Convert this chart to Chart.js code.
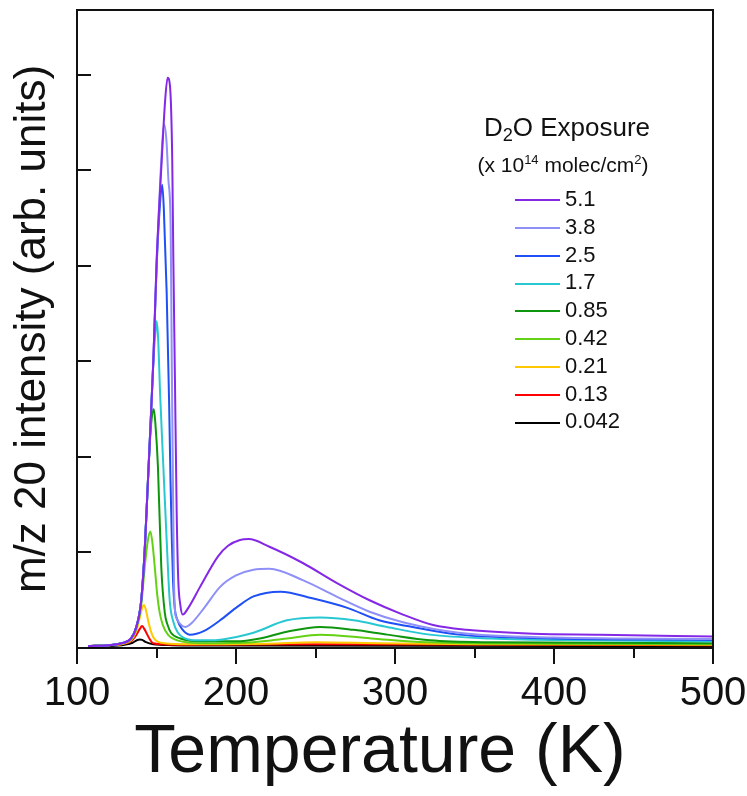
<!DOCTYPE html>
<html>
<head>
<meta charset="utf-8">
<script src="https://cdn.jsdelivr.net/npm/chart.js@4.4.1/dist/chart.umd.min.js"></script>
<style>
  html, body { margin: 0; padding: 0; background: #fff; }
  #wrap { position: relative; width: 747px; height: 796px; font-family: "Liberation Sans", Arial, sans-serif; color: #111; }
  #legend { position: absolute; left: 0; top: 0; width: 747px; height: 796px; pointer-events: none; }
  .lg-title { position: absolute; left: 447px; width: 240px; top: 112px; text-align: center; font-size: 26px; line-height: 30px; }
  .lg-sub { position: absolute; left: 443px; width: 240px; top: 153px; text-align: center; font-size: 21px; line-height: 24px; }
  .lg-title sub { font-size: 0.7em; vertical-align: -0.25em; line-height: 0; }
  .lg-sub sup { font-size: 0.62em; vertical-align: 0.65em; line-height: 0; }
  .row { position: absolute; left: 515px; height: 28px; line-height: 28px; font-size: 22px; white-space: nowrap; }
  .swatch { display: inline-block; width: 45px; height: 2px; vertical-align: middle; margin-right: 5px; }
</style>
</head>
<body>
<div id="wrap">
  <canvas id="tpdChart" width="747" height="796"></canvas>
  <div id="legend">
    <div class="lg-title">D<sub>2</sub>O Exposure</div>
    <div class="lg-sub">(x 10<sup>14</sup> molec/cm<sup>2</sup>)</div>
  </div>
</div>
<script>
// D2O exposures (x 10^14 molec/cm^2) and the colour used for each trace
const labels = ['5.1', '3.8', '2.5', '1.7', '0.85', '0.42', '0.21', '0.13', '0.042'];
const colors = ['#8428e6', '#8f8ff8', '#1e50f5', '#28c8d2', '#0f960f', '#64d214', '#ffc800', '#ff0000', '#000000'];
const xTitle = 'Temperature (K)';
const yTitle = 'm/z 20 intensity (arb. units)';

// TPD traces: [temperature (K), m/z 20 signal (arb. units)]
const exp51 = [[107,0.02],[120,0.03],[128,0.05],[134,0.10],[137.3,0.22],[140.4,0.5],[142.6,1.03],[144.2,1.6],[146,2.25],[148,3.0],[150.1,4.06],[153.3,5.11],[155.5,5.75],[157,5.97],[158.5,5.88],[159.9,5.11],[160.6,4.06],[161.6,2.81],[162.7,1.41],[163.7,0.71],[165,0.45],[166.5,0.35],[170,0.42],[177.4,0.64],[188.7,0.96],[195,1.07],[202.5,1.13],[208,1.14],[221,1.06],[242,0.89],[263.5,0.68],[284,0.5],[305,0.35],[324,0.24],[345,0.19],[387,0.15],[429,0.14],[500,0.12]];
const exp38 = [[107,0.02],[120,0.03],[128,0.05],[134,0.10],[137.3,0.22],[140.4,0.5],[142.6,1.03],[144.2,1.6],[146,2.25],[148,3.0],[150.1,4.06],[152.5,4.95],[154.9,5.48],[156.3,5.3],[157.5,4.9],[158.9,4.41],[159.6,3.02],[160.3,1.8],[161,0.71],[161.6,0.4],[163,0.3],[165,0.25],[168,0.22],[172,0.26],[180,0.42],[190,0.64],[200,0.76],[211,0.82],[221,0.83],[242,0.71],[263,0.54],[284,0.38],[305,0.27],[340,0.16],[400,0.11],[500,0.095]];
const exp25 = [[107,0.02],[120,0.03],[128,0.05],[134,0.10],[137.3,0.22],[140.4,0.5],[142.6,1.03],[144.2,1.6],[146,2.25],[148,3.0],[150.1,4.0],[152,4.6],[153.6,4.85],[154.6,4.6],[156.4,3.72],[157.9,2.6],[158.8,1.76],[159.7,1.1],[160.4,0.7],[161.6,0.4],[163,0.3],[166,0.2],[171,0.14],[180,0.18],[190,0.29],[200,0.42],[211,0.54],[228,0.59],[248,0.52],[270,0.42],[290,0.29],[311,0.22],[340,0.14],[400,0.10],[500,0.085]];
const exp17 = [[107,0.02],[120,0.03],[128,0.05],[134,0.10],[137.3,0.22],[140.4,0.5],[142.6,1.03],[144.2,1.6],[146,2.25],[148,3.0],[149.3,3.3],[150.1,3.42],[151,3.25],[152.3,2.65],[154.3,1.9],[156.2,1.2],[158.3,0.5],[160.5,0.28],[163.5,0.16],[168,0.10],[175,0.08],[185,0.08],[195,0.10],[211,0.16],[232,0.29],[253,0.32],[274,0.29],[295,0.22],[322,0.14],[360,0.10],[420,0.08],[500,0.07]];
const exp085 = [[107,0.02],[120,0.03],[128,0.05],[134,0.10],[137.3,0.22],[140.4,0.5],[142.6,1.03],[144.2,1.6],[146,2.2],[147.3,2.45],[148.3,2.5],[149.3,2.35],[150.9,1.9],[153,0.85],[155.2,0.37],[157,0.24],[159.1,0.16],[165,0.1],[180,0.07],[200,0.07],[215,0.1],[232,0.17],[253,0.22],[274,0.19],[295,0.14],[322,0.08],[360,0.06],[500,0.05]];
const exp042 = [[107,0.02],[120,0.03],[128,0.05],[134,0.09],[137.3,0.2],[140.4,0.45],[142.6,0.85],[144.5,1.12],[146.1,1.22],[147.3,1.12],[148.9,0.85],[150.5,0.55],[152,0.37],[154,0.24],[157.2,0.14],[163,0.08],[180,0.05],[211,0.06],[232,0.10],[253,0.14],[285,0.10],[320,0.06],[400,0.045],[500,0.04]];
const exp021 = [[107,0.02],[120,0.03],[128,0.04],[134,0.08],[137.3,0.18],[139.5,0.32],[141,0.42],[142.1,0.45],[143.3,0.4],[145.1,0.26],[147,0.15],[148.9,0.09],[155,0.05],[170,0.04],[220,0.045],[250,0.06],[290,0.05],[350,0.04],[500,0.035]];
const exp013 = [[107,0.02],[120,0.03],[128,0.04],[134,0.07],[137,0.13],[139.5,0.2],[140.9,0.23],[142.3,0.2],[143.6,0.16],[145.5,0.1],[147.8,0.05],[160,0.035],[250,0.04],[500,0.03]];
const exp0042 = [[107,0.015],[120,0.02],[130,0.035],[135,0.055],[137.5,0.08],[139.4,0.09],[141,0.085],[143,0.065],[148,0.04],[160,0.03],[200,0.025],[500,0.02]];

const traces = [exp51, exp38, exp25, exp17, exp085, exp042, exp021, exp013, exp0042];

// tick marks, frame and the x title (sits a bit left of the plot centre in the original)
const axisMarks = {
    id: 'axisMarks',
    afterDraw(chart) {
        const { ctx, chartArea: a, scales: { x, y } } = chart;
        ctx.save();
        ctx.strokeStyle = '#111';
        ctx.lineWidth = 2;
        ctx.beginPath();
        ctx.moveTo(a.left, a.top);
        ctx.lineTo(a.right, a.top);
        ctx.lineTo(a.right, a.bottom);
        y.ticks.forEach(t => {
            if (t.value > 0 && Number.isInteger(t.value)) {
                const py = Math.round(y.getPixelForValue(t.value));
                ctx.moveTo(a.left, py);
                ctx.lineTo(a.left + 14, py);
            }
        });
        x.ticks.forEach(t => {
            const px = Math.round(x.getPixelForValue(t.value));
            const len = t.value % 100 === 0 ? 16 : 10;
            ctx.moveTo(px, a.bottom);
            ctx.lineTo(px, a.bottom + len);
        });
        ctx.stroke();

        ctx.fillStyle = '#111';
        ctx.font = '68px "Liberation Sans", Arial, sans-serif';
        ctx.textAlign = 'center';
        ctx.textBaseline = 'middle';
        ctx.fillText(xTitle, a.left + 303, x.bottom - 43);
        ctx.restore();
    }
};

const ctx = document.getElementById('tpdChart').getContext('2d');

const tpdChart = new Chart(ctx, {
    type: 'line',
    data: {
        datasets: traces.map((tr, i) => ({
            label: labels[i],
            data: tr.map(p => ({ x: p[0], y: p[1] })),
            borderColor: colors[i],
            borderWidth: 2,
            pointRadius: 0,
            fill: false,
            cubicInterpolationMode: 'monotone'
        }))
    },
    options: {
        responsive: false,
        animation: false,
        devicePixelRatio: 1,
        layout: { padding: { top: 10, right: 34, left: 0, bottom: 0 } },
        plugins: { legend: { display: false }, tooltip: { enabled: false } },
        scales: {
            x: {
                type: 'linear',
                min: 100,
                max: 500,
                afterFit: s => { s.height = 148; s.paddingLeft = 0; s.paddingRight = 0; },
                grid: { drawOnChartArea: false, drawTicks: false },
                border: { display: true, color: '#111', width: 2 },
                ticks: {
                    stepSize: 50,
                    autoSkip: false,
                    maxRotation: 0,
                    padding: 22,
                    color: '#111',
                    font: { family: 'Liberation Sans', size: 40 },
                    callback: v => (v % 100 === 0 ? v : '')
                },
                title: { display: false }
            },
            y: {
                min: 0,
                max: 6.68,
                afterFit: s => { s.width = 77; },
                grid: { drawOnChartArea: false, drawTicks: false },
                border: { display: true, color: '#111', width: 2 },
                ticks: { stepSize: 1, display: false },
                title: {
                    display: true,
                    text: yTitle,
                    color: '#111',
                    font: { family: 'Liberation Sans', size: 44 },
                    padding: { top: 6, bottom: 0 }
                }
            }
        }
    },
    plugins: [axisMarks]
});

// legend rows built from the same labels and colours
const legendBox = document.getElementById('legend');
labels.forEach((lab, i) => {
    const row = document.createElement('div');
    row.className = 'row';
    row.style.top = (199 + i * 27.8 - 14) + 'px';
    row.innerHTML = `<span class="swatch" style="background:${colors[i]}"></span>${lab}`;
    legendBox.appendChild(row);
});
</script>
</body>
</html>
